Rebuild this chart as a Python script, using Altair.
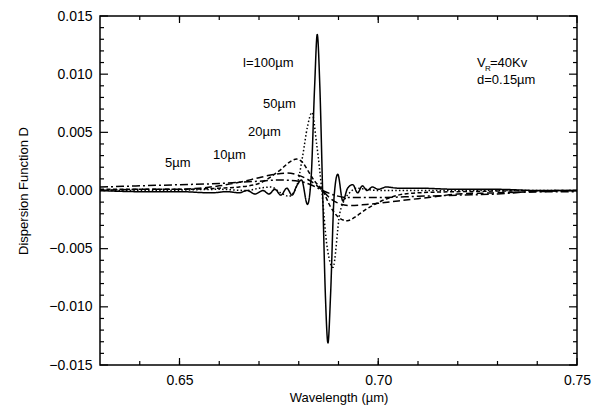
import altair as alt
import pandas as pd

# ---- data ----
wl_100 = [0.630, 0.640, 0.650, 0.658, 0.662, 0.665, 0.667, 0.669, 0.671, 0.6725, 0.674, 0.6755,
          0.677, 0.6783, 0.6795, 0.6807, 0.6822, 0.6831, 0.6840, 0.68465, 0.6853, 0.6860, 0.6867,
          0.68735, 0.6880, 0.6889, 0.6898, 0.6911, 0.6923, 0.6936, 0.6948, 0.6960, 0.6972, 0.6985,
          0.700, 0.702, 0.705, 0.710, 0.720, 0.730, 0.740, 0.750]
d_100 = [0.0000, -0.0001, -0.0001, -0.0002, -0.0001, -0.0002, 0.0000, -0.0003, 0.0000, -0.0003, 0.0001, -0.0004,
         0.0002, -0.0004, 0.0004, 0.0009, -0.0012, 0.0010, 0.0090, 0.0134, 0.0090, 0.0000, -0.0090,
         -0.0131, -0.0090, -0.0005, 0.0014, -0.0009, 0.0002, 0.0005, -0.0002, 0.0004, 0.0000, 0.0003,
         0.0001, 0.0003, 0.0002, 0.0002, 0.0001, 0.0001, 0.0000, 0.0000]

wl_50 = [0.630, 0.645, 0.660, 0.667, 0.670, 0.673, 0.6755, 0.6775, 0.6795, 0.6810, 0.6822, 0.6833,
         0.6845, 0.6858, 0.6870, 0.6886, 0.6903, 0.6915, 0.6928, 0.6945, 0.697, 0.700, 0.720, 0.750]
d_50 = [0.0000, 0.0000, 0.0001, 0.0000, 0.0002, 0.0003, -0.0002, -0.0005, 0.0004, 0.0030, 0.0055, 0.0067,
        0.0040, 0.0000, -0.0045, -0.0066, -0.0020, -0.0008, -0.0002, 0.0002, 0.0001, 0.0000, 0.0000, 0.0000]

wl_20 = [0.630, 0.640, 0.650, 0.660, 0.665, 0.670, 0.6735, 0.6755, 0.6775, 0.6795, 0.6810, 0.6825,
         0.6840, 0.6860, 0.6880, 0.6900, 0.6922, 0.6945, 0.6970, 0.6996, 0.705, 0.710, 0.720, 0.750]
d_20 = [0.0001, 0.0001, 0.0001, 0.0002, 0.0003, 0.0006, 0.0013, 0.0018, 0.0024, 0.0027, 0.0024, 0.0016,
        0.0008, 0.0000, -0.0014, -0.0023, -0.0026, -0.0022, -0.0016, -0.0011, -0.0004, -0.0002, -0.0001, 0.0000]

wl_10 = [0.630, 0.640, 0.650, 0.655, 0.660, 0.665, 0.670, 0.674, 0.677, 0.680, 0.683, 0.686,
         0.688, 0.690, 0.693, 0.697, 0.700, 0.705, 0.710, 0.715, 0.720, 0.730, 0.740, 0.750]
d_10 = [0.0000, 0.0001, 0.0001, 0.0002, 0.0004, 0.0007, 0.0011, 0.0014, 0.0015, 0.0013, 0.0008, 0.0000,
        -0.0007, -0.0011, -0.0013, -0.0012, -0.0011, -0.0009, -0.0007, -0.0005, -0.0003, -0.0002, -0.0001, 0.0000]

wl_5 = [0.630, 0.640, 0.650, 0.660, 0.665, 0.670, 0.675, 0.680, 0.683, 0.686, 0.689, 0.692,
        0.700, 0.710, 0.720, 0.730, 0.740, 0.750]
d_5 = [0.0003, 0.0004, 0.0005, 0.0006, 0.0007, 0.0008, 0.0009, 0.0008, 0.0005, 0.0000, -0.0004, -0.0006,
       -0.0006, -0.0005, -0.0004, -0.0003, -0.0001, -0.0001]

series_names = ["100", "50", "20", "10", "5"]
series_wl = [wl_100, wl_50, wl_20, wl_10, wl_5]
series_d = [d_100, d_50, d_20, d_10, d_5]

x_major = [0.65, 0.70, 0.75]
x_minor = [0.64, 0.65, 0.66, 0.67, 0.68, 0.69, 0.70, 0.71, 0.72, 0.73, 0.74]
y_major = [-0.015, -0.010, -0.005, 0.000, 0.005, 0.010, 0.015]
y_minor = [-0.014, -0.013, -0.012, -0.011, -0.009, -0.008, -0.007, -0.006, -0.004, -0.003, -0.002,
           -0.001, 0.001, 0.002, 0.003, 0.004, 0.006, 0.007, 0.008, 0.009, 0.011, 0.012, 0.013, 0.014]

# ---- build ----
rows = []
for name, wls, ds in zip(series_names, series_wl, series_d):
    for w, d in zip(wls, ds):
        rows.append({"wl": w, "D": d, "series": name})
df = pd.DataFrame(rows)

W, H = 477, 349
FONT = "Liberation Sans"
XTITLE = "Wavelength  (µm)"
YTITLE = "Dispersion Function  D"
xs = alt.Scale(domain=[0.63, 0.75], nice=False, zero=False)
ys = alt.Scale(domain=[-0.015, 0.015], nice=False, zero=False)

x_axis = alt.Axis(values=x_major, format=".2f", ticks=False, tickSize=0, grid=False, domain=False,
                  labelPadding=8, labelFontSize=14, labelFont=FONT, labelColor="black",
                  titleFont=FONT, titleFontSize=13, titleFontWeight="normal",
                  titleColor="black", titlePadding=4, labelFlush=False)
y_axis = alt.Axis(values=y_major, format=".3f", ticks=False, tickSize=0, grid=False, domain=False,
                  labelPadding=8, labelFontSize=14, labelFont=FONT, labelColor="black",
                  titleFont=FONT, titleFontSize=13, titleFontWeight="normal",
                  titleColor="black", titlePadding=18)

lines = alt.Chart(df).mark_line(color="black", strokeWidth=1.5, interpolate="monotone", clip=True).encode(
    x=alt.X("wl:Q", scale=xs, axis=x_axis, title=XTITLE),
    y=alt.Y("D:Q", scale=ys, axis=y_axis, title=YTITLE),
    strokeDash=alt.StrokeDash("series:N", legend=None,
                              scale=alt.Scale(domain=series_names,
                                              range=[[1, 0], [1.5, 2.2], [4, 2.5], [7, 3.5], [8, 3, 2, 3]])),
    detail="series:N",
)

def xticks(vals, length, top):
    return alt.Chart(pd.DataFrame({"wl": vals})).mark_rule(color="black", strokeWidth=1.2).encode(
        x=alt.X("wl:Q", scale=xs, axis=x_axis, title=XTITLE),
        y=alt.value(0 if top else H),
        y2=alt.value(length if top else H - length),
    )

def yticks(vals, length, right):
    return alt.Chart(pd.DataFrame({"D": vals})).mark_rule(color="black", strokeWidth=1.2).encode(
        y=alt.Y("D:Q", scale=ys, axis=y_axis, title=YTITLE),
        x=alt.value(W if right else 0),
        x2=alt.value(W - length if right else length),
    )

ticks = [
    xticks(x_minor, 4, False), xticks(x_minor, 4, True),
    xticks(x_major, 7, False), xticks(x_major, 7, True),
    yticks(y_minor, 4, False), yticks(y_minor, 4, True),
    yticks(y_major, 8, False), yticks(y_major, 8, True),
]

def label(text, x, y, size=13, align="left"):
    return alt.Chart(pd.DataFrame({"t": [text]})).mark_text(
        font=FONT, fontSize=size, color="black", align=align, baseline="middle").encode(
        text="t:N", x=alt.value(x), y=alt.value(y))

ox, oy = 100, 16  # plot origin in the page
labels = [
    label("l=100µm", 243 - ox, 63 - oy),
    label("50µm", 263 - ox, 104 - oy),
    label("20µm", 248 - ox, 132 - oy),
    label("10µm", 213 - ox, 155 - oy),
    label("5µm", 165 - ox, 163 - oy),
    label("V", 477 - ox, 63 - oy),
    label("R", 485 - ox, 69 - oy, size=8),
    label("=40Kv", 490 - ox, 63 - oy),
    label("d=0.15µm", 477 - ox, 80 - oy),
]

chart = alt.layer(lines, *ticks, *labels).properties(
    width=W, height=H,
    autosize=alt.AutoSizeParams(type="none"),
    padding={"left": 92, "top": 8, "right": 16, "bottom": 44},
    background="white",
).configure_view(stroke="black", strokeWidth=1.5)

chart.save("out.html", embed_options={"renderer": "svg", "actions": False})
